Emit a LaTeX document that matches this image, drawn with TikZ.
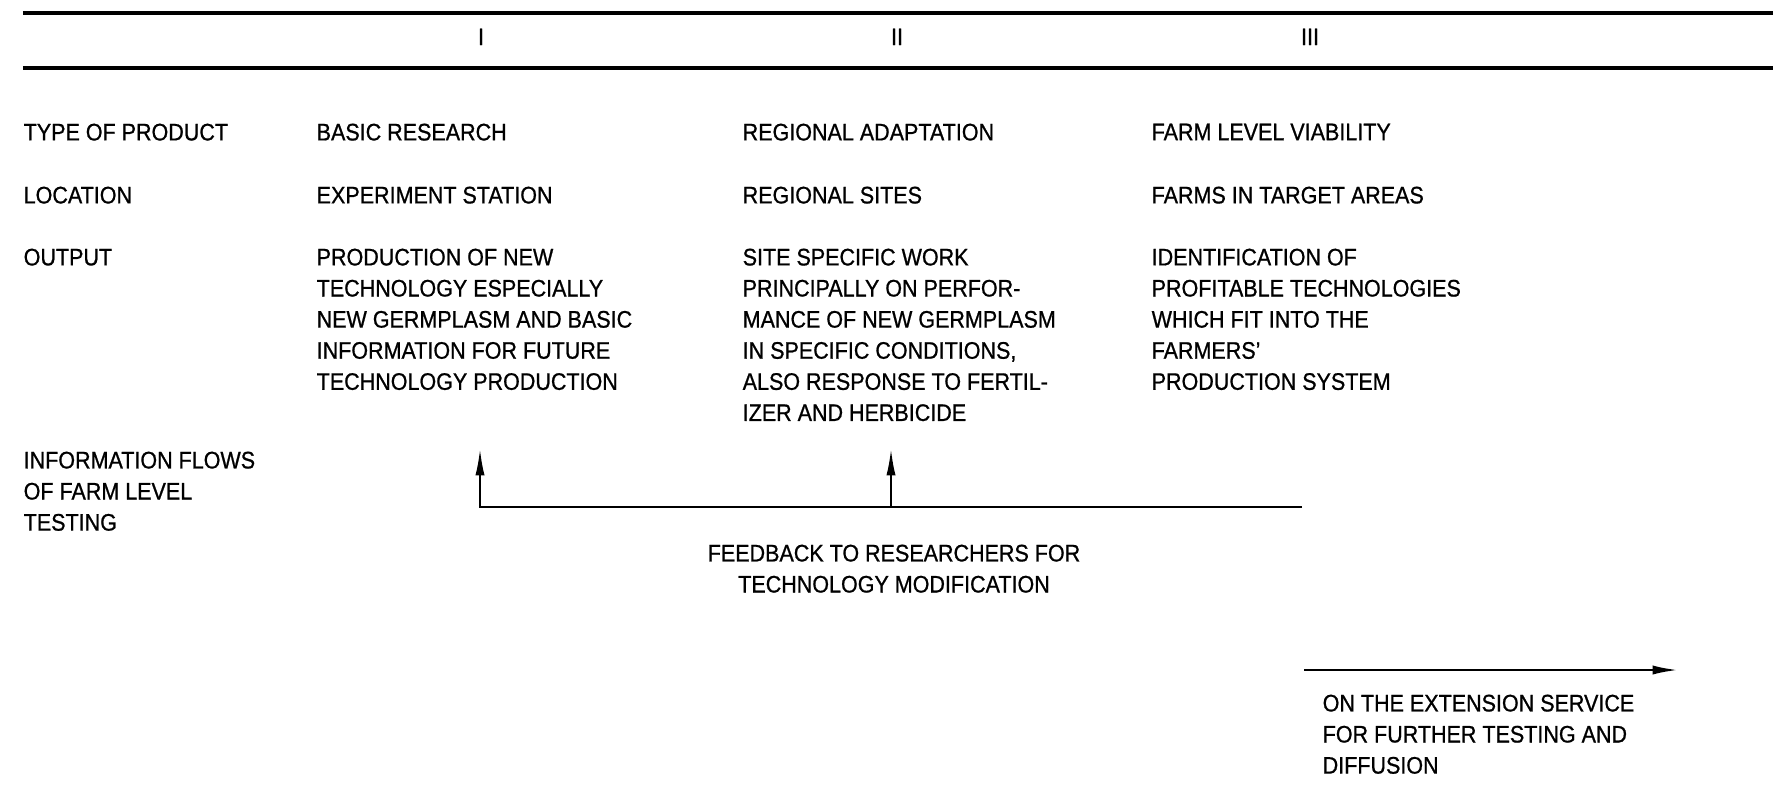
\documentclass[tikz,border=0pt]{standalone}
\usepackage{fontspec}
\setmainfont{Liberation Sans}[FakeStretch=0.9, FakeBold=0.8]
\usetikzlibrary{arrows.meta}

\begin{document}
\begin{tikzpicture}[
    txt/.style={anchor=north west, inner sep=0pt, align=left},
    num/.style={anchor=north, inner sep=0pt},
    rule/.style={line width=0.9pt},
    arr/.style={-{Latex[length=7.5pt,width=2.6pt]}, line width=0.55pt},
    font=\fontsize{6.8}{8.85}\selectfont
]
    \useasboundingbox (0,0) rectangle (17.73,-7.99);

    \coordinate (ruleAw) at (0.23,-0.13);
    \coordinate (ruleAe) at (17.73,-0.13);
    \coordinate (ruleBw) at (0.23,-0.68);
    \coordinate (ruleBe) at (17.73,-0.68);
    \draw[rule] (ruleAw) -- (ruleAe);
    \draw[rule] (ruleBw) -- (ruleBe);

    \node[num] (numI) at (4.81,-0.28) {I};
    \node[num] (numII) at (8.97,-0.28) {II};
    \node[num] (numIII) at (13.10,-0.28) {III};

    \node[txt] (typelbl) at (0.23,-1.23) {TYPE OF PRODUCT};
    \node[txt] (loclbl) at (0.23,-1.86) {LOCATION};
    \node[txt] (outlbl) at (0.23,-2.48) {OUTPUT};
    \node[txt] (infolbl) at (0.23,-4.51) {INFORMATION FLOWS\\OF FARM LEVEL\\TESTING};

    \node[txt] (basic) at (3.16,-1.23) {BASIC RESEARCH};
    \node[txt] (station) at (3.16,-1.86) {EXPERIMENT STATION};
    \node[txt] (prodnew) at (3.16,-2.48) {PRODUCTION OF NEW\\TECHNOLOGY ESPECIALLY\\NEW GERMPLASM AND BASIC\\INFORMATION FOR FUTURE\\TECHNOLOGY PRODUCTION};

    \node[txt] (regadapt) at (7.42,-1.23) {REGIONAL ADAPTATION};
    \node[txt] (regsites) at (7.42,-1.86) {REGIONAL SITES};
    \node[txt] (sitework) at (7.42,-2.48) {SITE SPECIFIC WORK\\PRINCIPALLY ON PERFOR-\\MANCE OF NEW GERMPLASM\\IN SPECIFIC CONDITIONS,\\ALSO RESPONSE TO FERTIL-\\IZER AND HERBICIDE};

    \node[txt] (farmviab) at (11.51,-1.23) {FARM LEVEL VIABILITY};
    \node[txt] (farms) at (11.51,-1.86) {FARMS IN TARGET AREAS};
    \node[txt] (identif) at (11.51,-2.48) {IDENTIFICATION OF\\PROFITABLE TECHNOLOGIES\\WHICH FIT INTO THE\\FARMERS'\\PRODUCTION SYSTEM};

    \coordinate (fbend) at (13.02,-5.07);
    \coordinate (fbmid) at (8.91,-5.07);
    \coordinate (tipI) at (4.80,-4.49);
    \coordinate (tipII) at (8.91,-4.49);
    \draw[arr] (fbend) -| (tipI);
    \draw[arr] (fbmid) -- (tipII);

    \node[num, align=center] (feedback) at (8.94,-5.44) {FEEDBACK TO RESEARCHERS FOR\\TECHNOLOGY MODIFICATION};

    \coordinate (extstart) at (13.04,-6.70);
    \coordinate (extend) at (16.79,-6.70);
    \draw[arr, line width=0.8pt] (extstart) -- (extend);
    \node[txt] (extension) at (13.22,-6.94) {ON THE EXTENSION SERVICE\\FOR FURTHER TESTING AND\\DIFFUSION};
\end{tikzpicture}
\end{document}
